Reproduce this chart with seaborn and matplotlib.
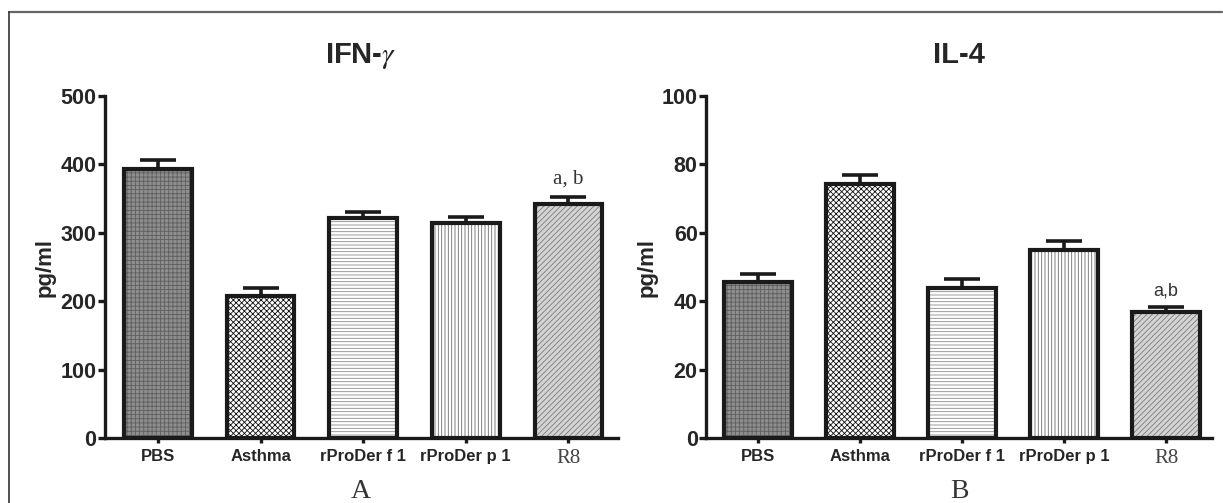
import matplotlib
matplotlib.use("Agg")
import matplotlib.pyplot as plt
import seaborn as sns
import numpy as np
import pandas as pd
from matplotlib.lines import Line2D

categories = ["PBS", "Asthma", "rProDer f 1", "rProDer p 1", "R8"]
ifn_values = [394, 208, 322, 315, 342]
ifn_errors = [12, 12, 8, 8, 10]
il4_values = [45.5, 74.3, 44.0, 55.0, 37.0]
il4_errors = [2.4, 2.5, 2.6, 2.6, 1.2]
ifn_ticks = [0, 100, 200, 300, 400, 500]
il4_ticks = [0, 20, 40, 60, 80, 100]
titles = ["IFN-$\\mathit{\\gamma}$", "IL-4"]
panel_letters = ["A", "B"]
sig_labels = ["a, b", "a,b"]

face_colors = ["#8e8e8e", "#ffffff", "#ffffff", "#ffffff", "#d4d4d4"]
hatch_colors = ["#5e5e5e", "#111111", "#8c8c8c", "#6a6a6a", "#7a7a7a"]
hatches = ["++++", "xxxxxx", "-----", "|||||", "//////"]

sns.set_theme(style="ticks")
plt.rcParams["font.family"] = ["Liberation Sans", "DejaVu Sans"]
plt.rcParams["mathtext.fontset"] = "stix"
plt.rcParams["hatch.linewidth"] = 0.6

fig = plt.figure(figsize=(12.23, 5.03), dpi=100)
ax1 = fig.add_axes([0.0855, 0.129, 0.4195, 0.680])
ax2 = fig.add_axes([0.5773, 0.129, 0.4137, 0.680])


def draw_panel(ax, values, errors, ticks, title, letter, sig, sig_font, sig_fs, xlim):
    df = pd.DataFrame({"group": categories, "value": values})
    sns.barplot(data=df, x="group", y="value", hue="group", palette=face_colors,
                order=categories, hue_order=categories, width=0.66,
                legend=False, ax=ax, linewidth=0, zorder=2)
    for p, hc, h in zip(ax.patches, hatch_colors, hatches):
        p.set_edgecolor(hc)
        p.set_hatch(h)
        p.set_linewidth(0)
    xs = np.arange(len(categories))
    ax.errorbar(xs, values, yerr=[np.zeros(len(values)), errors], fmt="none",
                ecolor="#1a1a1a", elinewidth=2.6, capsize=13, capthick=2.6, zorder=3)
    sns.barplot(data=df, x="group", y="value", order=categories, width=0.66,
                fill=False, color="#1a1a1a", linewidth=3, ax=ax, zorder=4,
                errorbar=None)
    ax.set_xlim(*xlim)
    ax.set_ylim(ticks[0], ticks[-1])
    ax.set_yticks(ticks)
    ax.set_yticklabels([str(t) for t in ticks], fontsize=15.5, fontweight="bold")
    ax.set_xticks(xs)
    ax.set_xticklabels(categories, fontsize=12, fontweight="bold")
    lbl = ax.get_xticklabels()[-1]
    lbl.set_fontfamily("Liberation Serif")
    lbl.set_fontweight("normal")
    lbl.set_fontsize(15)
    lbl.set_color("#444444")
    ax.set_xlabel("")
    ax.set_ylabel("pg/ml", fontsize=16, fontweight="bold", labelpad=3)
    ax.set_title(title, fontsize=21, fontweight="bold", pad=24)
    for s in ["top", "right"]:
        ax.spines[s].set_visible(False)
    for s in ["left", "bottom"]:
        ax.spines[s].set_linewidth(2.4)
        ax.spines[s].set_color("#1a1a1a")
    ax.tick_params(axis="y", length=5, width=2.4, color="#1a1a1a", pad=1)
    ax.tick_params(axis="x", length=3.5, width=2.4, color="#1a1a1a", pad=4)
    ax.annotate(sig, xy=(xs[-1], values[-1] + errors[-1]), xytext=(0, 6),
                textcoords="offset points", ha="center", va="bottom",
                fontsize=sig_fs, family=sig_font, color="#333333")
    ax.text(0.5, -0.155, letter, transform=ax.transAxes, ha="center", va="center",
            fontsize=20, family="Liberation Serif", color="#333333")


draw_panel(ax1, ifn_values, ifn_errors, ifn_ticks, titles[0], panel_letters[0],
           sig_labels[0], "Liberation Serif", 15, (-0.52, 4.48))
draw_panel(ax2, il4_values, il4_errors, il4_ticks, titles[1], panel_letters[1],
           sig_labels[1], "Liberation Sans", 13, (-0.51, 4.45))

# figure frame (top and left edges)
fig.add_artist(Line2D([9 / 1223, 1222 / 1223], [1 - 12 / 503, 1 - 12 / 503],
                      transform=fig.transFigure, color="#666666", linewidth=1.6))
fig.add_artist(Line2D([9 / 1223, 9 / 1223], [0, 1 - 12 / 503],
                      transform=fig.transFigure, color="#333333", linewidth=1.2))

fig.savefig("out.png", dpi=100)
